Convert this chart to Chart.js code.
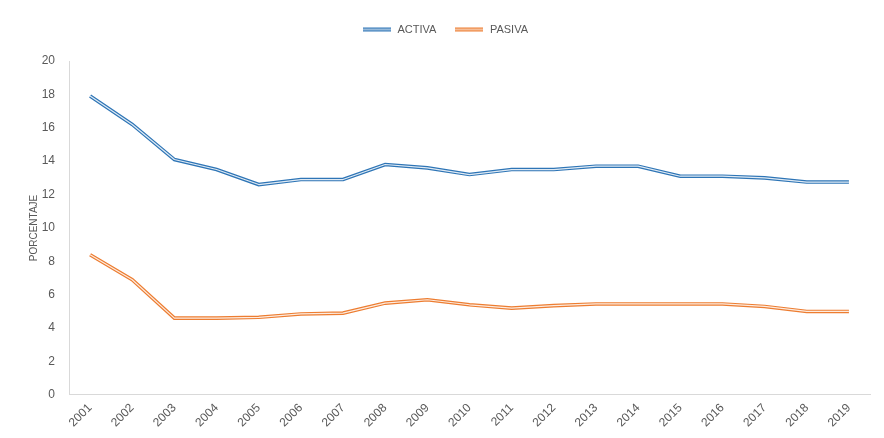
<!DOCTYPE html>
<html><head><meta charset="utf-8">
<script src="https://cdn.jsdelivr.net/npm/chart.js@4/dist/chart.umd.min.js"></script>
<style>html,body{margin:0;padding:0;background:#fff;}canvas{display:block;}</style>
</head><body>
<canvas id="c" width="884" height="438"></canvas>
<script>
const years = ['2001','2002','2003','2004','2005','2006','2007','2008','2009','2010','2011','2012','2013','2014','2015','2016','2017','2018','2019'];
const activa = [17.9,16.2,14.1,13.5,12.6,12.9,12.9,13.8,13.6,13.2,13.5,13.5,13.7,13.7,13.1,13.1,13.0,12.75,12.75];
const pasiva = [8.4,6.9,4.6,4.6,4.65,4.85,4.9,5.5,5.7,5.4,5.2,5.35,5.45,5.45,5.45,5.45,5.3,5.0,5.0];
const BLUE = '#2e75b6', ORANGE = '#ed7d31';

function legendIcon(color){
  const cv = document.createElement('canvas');
  cv.width = 28; cv.height = 6;
  const g = cv.getContext('2d');
  g.fillStyle = color; g.fillRect(0,1,28,4);
  g.fillStyle = '#fff'; g.fillRect(0,2.5,28,1);
  return cv;
}

const doubleLine = {
  id: 'doubleLine',
  afterInit(chart) {
    const lg = chart.legend;
    if (lg && !lg._patched) {
      const orig = lg.fit;
      lg.fit = function(){ orig.apply(this, arguments); this.height += 16; };
      lg._patched = true;
    }
  },
  afterDatasetDraw(chart, args) {
    const pts = args.meta.data;
    const ctx = chart.ctx;
    ctx.save();
    ctx.strokeStyle = 'rgba(255,255,255,0.85)';
    ctx.lineWidth = 1.2;
    ctx.lineJoin = 'round';
    ctx.beginPath();
    pts.forEach((p,i)=>{ if(i===0) ctx.moveTo(p.x,p.y); else ctx.lineTo(p.x,p.y); });
    ctx.stroke();
    ctx.restore();
  }
};

new Chart(document.getElementById('c'), {
  type: 'line',
  data: {
    labels: years,
    datasets: [
      {label:'ACTIVA', data: activa, borderColor: BLUE, backgroundColor: BLUE, borderWidth: 3.6, pointRadius: 0, tension: 0, pointStyle: legendIcon(BLUE)},
      {label:'PASIVA', data: pasiva, borderColor: ORANGE, backgroundColor: ORANGE, borderWidth: 3.6, pointRadius: 0, tension: 0, pointStyle: legendIcon(ORANGE)}
    ]
  },
  options: {
    responsive: false,
    animation: false,
    layout: {padding: {left: 20, right: 14, top: 6, bottom: 2}},
    plugins: {
      legend: {
        position: 'top',
        labels: {usePointStyle: true, pointStyleWidth: 30, color: '#595959', font: {family: 'Liberation Sans', size: 11}, boxHeight: 6, padding: 18}
      },
      tooltip: {enabled: false}
    },
    scales: {
      x: {
        offset: true,
        grid: {display: false, drawTicks: false},
        border: {color: '#d9d9d9', width: 1},
        ticks: {color: '#595959', font: {family: 'Liberation Sans', size: 12}, maxRotation: 45, minRotation: 45, padding: 6}
      },
      y: {
        min: 0, max: 20,
        afterFit(s){ s.width = 49; },
        grid: {display: false, drawTicks: false},
        border: {color: '#d9d9d9', width: 1},
        ticks: {stepSize: 2, color: '#595959', font: {family: 'Liberation Sans', size: 12}, padding: 14},
        title: {display: true, text: 'PORCENTAJE', color: '#595959', font: {family: 'Liberation Sans', size: 10}, padding: {top: 8, bottom: 6}}
      }
    }
  },
  plugins: [doubleLine]
});
</script>
</body></html>
